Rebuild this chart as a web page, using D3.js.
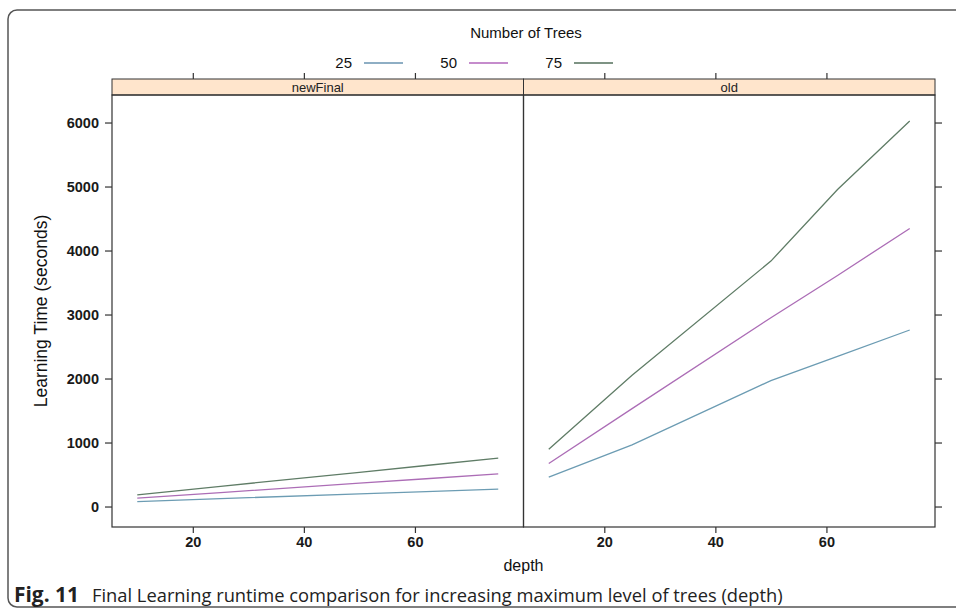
<!DOCTYPE html>
<html>
<head>
<meta charset="utf-8">
<script src="https://cdn.jsdelivr.net/npm/d3@7"></script>
<style>
	body { margin: 0; background: #fff; }
	svg { display: block; }
</style>
</head>
<body>
<script>
//Data
var depths = [10, 25, 50, 62, 75];
var treeCounts = ["25", "50", "75"];
var panels = ["newFinal", "old"];

var newFinal25 = [78, 123, 197, 232, 271];
var newFinal50 = [131, 218, 364, 434, 510];
var newFinal75 = [183, 315, 535, 641, 755];

var old25 = [459, 963, 1967, 2347, 2758];
var old50 = [671, 1530, 2950, 3610, 4345];
var old75 = [896, 2050, 3835, 4954, 6025];

var yTicks = [0, 1000, 2000, 3000, 4000, 5000, 6000];
var xTicks = [20, 40, 60];

var colours = ["#6c9cb3", "#ac6db6", "#5f7c66"];
var legendColours = ["#8eaec4", "#c58ccc", "#7e9384"];

var font = "'Liberation Sans', Arial, sans-serif";

function makeGraph() {
	//Width and height
	var w = 956;
	var h = 613;
	var margin = {top: 95, left: 112, right: 935, bottom: 527};
	var stripH = 16;
	var panelW = (margin.right - margin.left) / panels.length;

	var series = {
		newFinal: [newFinal25, newFinal50, newFinal75],
		old: [old25, old50, old75]
	};

	var svg = d3.select("body")
		.append("svg")
		.attr("width", w)
		.attr("height", h);

	//outer frame of the figure
	svg.append("rect")
		.attr("x", 8)
		.attr("y", 10)
		.attr("width", 1000)
		.attr("height", 597)
		.attr("rx", 9)
		.attr("fill", "none")
		.attr("stroke", "#555")
		.attr("stroke-width", 1.5);

	var yScale = d3.scaleLinear()
		.domain([-320, 6430])
		.range([margin.bottom, margin.top]);

	panels.forEach(function(p, pi) {
		var x0 = margin.left + pi * panelW;

		var xScale = d3.scaleLinear()
			.domain([5.45, 79.55])
			.range([x0, x0 + panelW]);

		var g = svg.append("g");

		//strip on top of the panel
		g.append("rect")
			.attr("x", x0)
			.attr("y", margin.top - stripH)
			.attr("width", panelW)
			.attr("height", stripH)
			.attr("fill", "#ffe5cc")
			.attr("stroke", "#333")
			.attr("stroke-width", 1);

		g.append("text")
			.attr("x", x0 + panelW / 2)
			.attr("y", margin.top - 3.5)
			.attr("text-anchor", "middle")
			.attr("font-family", font)
			.attr("font-size", 13)
			.attr("fill", "#222")
			.text(p);

		//lines
		var line = d3.line()
			.x(function(d, i) { return xScale(depths[i]); })
			.y(function(d) { return yScale(d); });

		series[p].forEach(function(vals, si) {
			g.append("path")
				.datum(vals)
				.attr("d", line)
				.attr("fill", "none")
				.attr("stroke", colours[si])
				.attr("stroke-width", 1.3);
		});

		//panel border
		g.append("rect")
			.attr("x", x0)
			.attr("y", margin.top)
			.attr("width", panelW)
			.attr("height", margin.bottom - margin.top)
			.attr("fill", "none")
			.attr("stroke", "#333")
			.attr("stroke-width", 1.2);

		//bottom axis with labels
		var xAxis = d3.axisBottom(xScale)
			.tickValues(xTicks)
			.tickSize(6)
			.tickPadding(4)
			.tickFormat(d3.format("d"));

		var gx = svg.append("g")
			.attr("transform", "translate(0," + margin.bottom + ")")
			.call(xAxis);
		gx.select(".domain").remove();
		gx.selectAll("line").attr("stroke", "#333").attr("stroke-width", 1.2);
		gx.selectAll("text")
			.attr("font-family", font)
			.attr("font-size", 14.5)
			.attr("font-weight", "bold")
			.attr("fill", "#1a1a1a");

		//top axis, ticks only
		var xTop = d3.axisTop(xScale)
			.tickValues(xTicks)
			.tickSize(6)
			.tickFormat("");

		var gt = svg.append("g")
			.attr("transform", "translate(0," + (margin.top - stripH) + ")")
			.call(xTop);
		gt.select(".domain").remove();
		gt.selectAll("line").attr("stroke", "#333").attr("stroke-width", 1.2);
	});

	//left axis with labels
	var yAxis = d3.axisLeft(yScale)
		.tickValues(yTicks)
		.tickSize(7)
		.tickPadding(6)
		.tickFormat(d3.format("d"));

	var gy = svg.append("g")
		.attr("transform", "translate(" + margin.left + ",0)")
		.call(yAxis);
	gy.select(".domain").remove();
	gy.selectAll("line").attr("stroke", "#333").attr("stroke-width", 1.2);
	gy.selectAll("text")
		.attr("font-family", font)
		.attr("font-size", 14.5)
		.attr("font-weight", "bold")
		.attr("fill", "#1a1a1a");

	//right axis, ticks only
	var gr = svg.append("g")
		.attr("transform", "translate(" + margin.right + ",0)")
		.call(d3.axisRight(yScale).tickValues(yTicks).tickSize(7).tickFormat(""));
	gr.select(".domain").remove();
	gr.selectAll("line").attr("stroke", "#333").attr("stroke-width", 1.2);

	//axis titles
	svg.append("text")
		.attr("x", (margin.left + margin.right) / 2)
		.attr("y", 571)
		.attr("text-anchor", "middle")
		.attr("font-family", font)
		.attr("font-size", 16)
		.attr("fill", "#111")
		.text("depth");

	svg.append("text")
		.attr("transform", "translate(47," + ((margin.top + margin.bottom) / 2) + ") rotate(-90)")
		.attr("text-anchor", "middle")
		.attr("font-family", font)
		.attr("font-size", 17.5)
		.attr("fill", "#111")
		.text("Learning Time (seconds)");

	//legend
	svg.append("text")
		.attr("x", 526)
		.attr("y", 38)
		.attr("text-anchor", "middle")
		.attr("font-family", font)
		.attr("font-size", 15)
		.attr("fill", "#111")
		.text("Number of Trees");

	var legend = svg.selectAll(".legend")
		.data(treeCounts)
		.enter()
		.append("g")
		.attr("class", "legend")
		.attr("transform", function(d, i) { return "translate(" + (352 + i * 105) + ",63)"; });

	legend.append("text")
		.attr("x", 0)
		.attr("y", 5)
		.attr("text-anchor", "end")
		.attr("font-family", font)
		.attr("font-size", 15)
		.attr("fill", "#111")
		.text(function(d) { return d; });

	legend.append("line")
		.attr("x1", 12)
		.attr("x2", 51)
		.attr("y1", 0)
		.attr("y2", 0)
		.attr("stroke", function(d, i) { return legendColours[i]; })
		.attr("stroke-width", 2);

	//caption
	var cap = svg.append("text")
		.attr("x", 14)
		.attr("y", 602)
		.attr("font-family", "'Open Sans', 'Noto Sans', sans-serif")
		.attr("fill", "#222");

	var capBold = cap.append("tspan")
		.attr("font-weight", "bold")
		.attr("font-size", 17)
		.text("Fig. 11");

	var capText = cap.append("tspan")
		.attr("x", 92)
		.attr("font-size", 17)
		.text("Final Learning runtime comparison for increasing maximum level of trees (depth)");

	//fit caption widths to the figure
	var bw = capBold.node().getComputedTextLength();
	capBold.attr("font-size", 17 * 65 / bw);
	var tw = capText.node().getComputedTextLength();
	capText.attr("font-size", 17 * 691 / tw);
}

makeGraph();
</script>
</body>
</html>
